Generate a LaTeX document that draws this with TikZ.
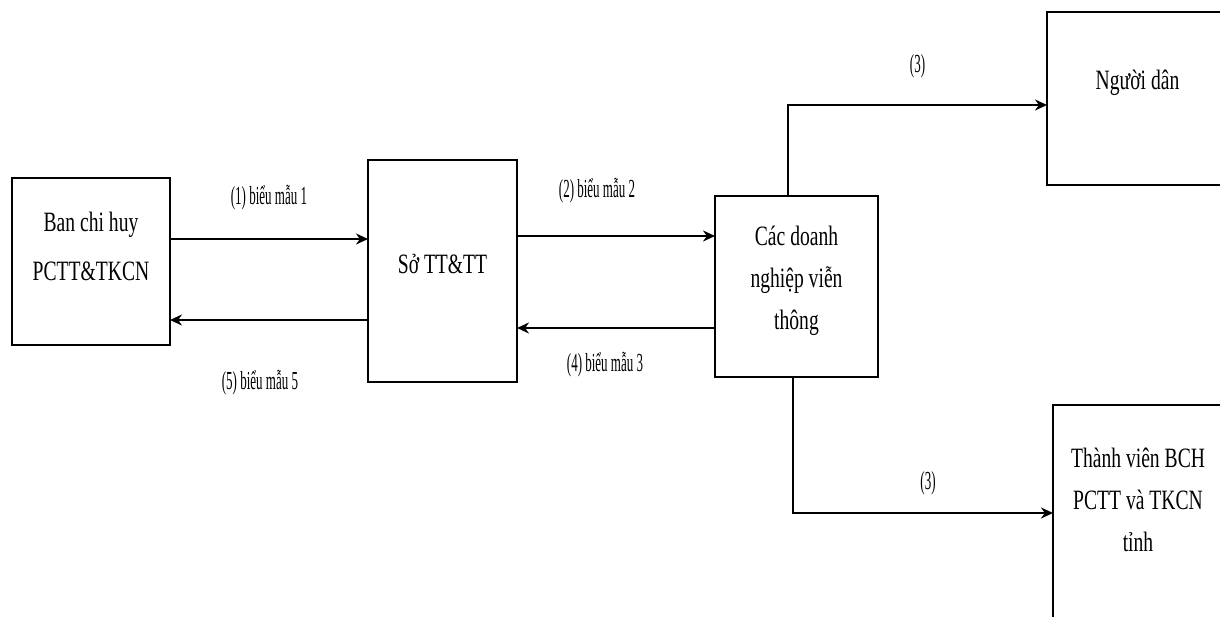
\documentclass[tikz,border=0pt]{standalone}
\usepackage{fontspec}
\setmainfont{Liberation Serif}
\newfontfamily\boxfont[FakeStretch=0.7]{Liberation Serif}
\newfontfamily\labelfont[FakeStretch=0.5]{Liberation Serif}
\usetikzlibrary{arrows.meta,positioning}
\tikzset{
  unitbox/.style={draw,line width=1.1pt,inner sep=0pt,outer sep=0pt},
  unittext/.style={align=center,inner sep=0pt,font=\boxfont\fontsize{14}{21}\selectfont},
  flowarrow/.style={-{Stealth[length=6pt,width=5.5pt]},line width=1.1pt},
  flowlabel/.style={inner sep=0pt,font=\labelfont\fontsize{13}{14}\selectfont}
}
\begin{document}
\begin{tikzpicture}[x=0.5pt,y=-0.5pt]
  \useasboundingbox (0,0) rectangle (1220,616);
  % boxes
  \node[unitbox,minimum width=79pt,minimum height=83.5pt] (bch) at (91,261.5) {};
  \node[unitbox,minimum width=74.5pt,minimum height=111pt] (so) at (442.5,271) {};
  \node[unitbox,minimum width=81.5pt,minimum height=90.5pt] (dn) at (796.5,286.5) {};
  \node[unitbox,minimum width=96.5pt,minimum height=86.5pt] (dan) at (1143.5,98.5) {};
  \node[unitbox,minimum width=96pt,minimum height=122.5pt] (tv) at (1149,527.5) {};
  % box texts
  \node[unittext,font=\boxfont\fontsize{14}{24.5}\selectfont] at ([yshift=7.5pt]bch.center) {Ban chi huy\\PCTT\&TKCN};
  \node[unittext] at ([yshift=3.5pt]so.center) {Sở TT\&TT};
  \node[unittext] at ([yshift=3pt]dn.center) {Các doanh\\nghiệp viễn\\thông};
  \node[unittext] at ([xshift=-3pt,yshift=8pt]dan.center) {Người dân};
  \node[unittext] at ([xshift=-5.5pt,yshift=14pt]tv.center) {Thành viên BCH\\PCTT và TKCN\\tỉnh};
  % flows
  \draw[flowarrow] (bch.east |- 0,239) -- node[flowlabel,above=14pt] {(1) biểu mẫu 1} (so.west |- 0,239);
  \draw[flowarrow] (so.west |- 0,320) -- node[flowlabel,below=24.5pt,xshift=-4.5pt] {(5) biểu mẫu 5} (bch.east |- 0,320);
  \draw[flowarrow] (so.east |- 0,236) -- node[flowlabel,above=16pt,xshift=-9.5pt] {(2) biểu mẫu 2} (dn.west |- 0,236);
  \draw[flowarrow] (dn.west |- 0,328) -- node[flowlabel,below=11.5pt,xshift=-5.5pt] {(4) biểu mẫu 3} (so.east |- 0,328);
  \draw[flowarrow] (dn.north -| 788,0) |- node[flowlabel,pos=0.75,above=13pt] {(3)} (dan.west |- 0,105);
  \draw[flowarrow] (dn.south -| 793,0) |- node[flowlabel,pos=0.75,above=8.5pt,xshift=2.5pt] {(3)} (tv.west |- 0,513);
\end{tikzpicture}
\end{document}
